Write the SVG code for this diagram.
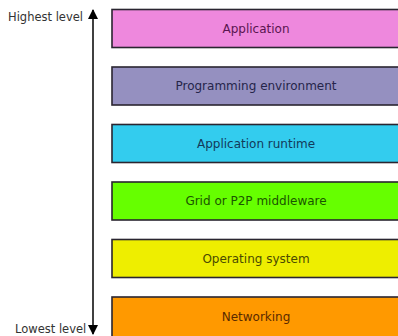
<svg xmlns="http://www.w3.org/2000/svg" width="398" height="336" viewBox="0 0 398 336">
<style>
.box{stroke:#2a2530;stroke-width:1.6}
.lbl{font-family:"DejaVu Sans",sans-serif;font-size:12px;text-anchor:middle}
.side{font-family:"DejaVu Sans",sans-serif;font-size:11.5px;fill:#333}
</style>
<defs>
<marker id="ah" viewBox="0 0 10 10" refX="9" refY="5" markerWidth="10" markerHeight="10" markerUnits="userSpaceOnUse" orient="auto-start-reverse">
<path d="M0,0 L10,5 L0,10 z" fill="#000"/>
</marker>
</defs>
<rect width="398" height="336" fill="#fff"/>
<g id="connectors">
<line x1="93" y1="10" x2="93" y2="334" stroke="#000" stroke-width="1.5" marker-start="url(#ah)" marker-end="url(#ah)"/>
</g>
<text class="side" x="8" y="21">Highest level</text>
<text class="side" x="15" y="333">Lowest level</text>
<g id="n1"><rect class="box" x="112" y="9.5" width="290" height="38" fill="#ee88dd"/><text class="lbl" x="256" y="32.5" fill="#5a1550">Application</text></g>
<g id="n2"><rect class="box" x="112" y="67" width="290" height="38" fill="#9590c0"/><text class="lbl" x="256" y="90" fill="#25254a">Programming environment</text></g>
<g id="n3"><rect class="box" x="112" y="124.5" width="290" height="38" fill="#33ccee"/><text class="lbl" x="256" y="147.5" fill="#123a5a">Application runtime</text></g>
<g id="n4"><rect class="box" x="112" y="182" width="290" height="38" fill="#66ff00"/><text class="lbl" x="256" y="205" fill="#1a5500">Grid or P2P middleware</text></g>
<g id="n5"><rect class="box" x="112" y="239.5" width="290" height="38" fill="#eeee00"/><text class="lbl" x="256" y="262.5" fill="#4a4a00">Operating system</text></g>
<g id="n6"><rect class="box" x="112" y="297" width="290" height="42" fill="#ff9900"/><text class="lbl" x="256" y="320.5" fill="#5a2a00">Networking</text></g>
</svg>
